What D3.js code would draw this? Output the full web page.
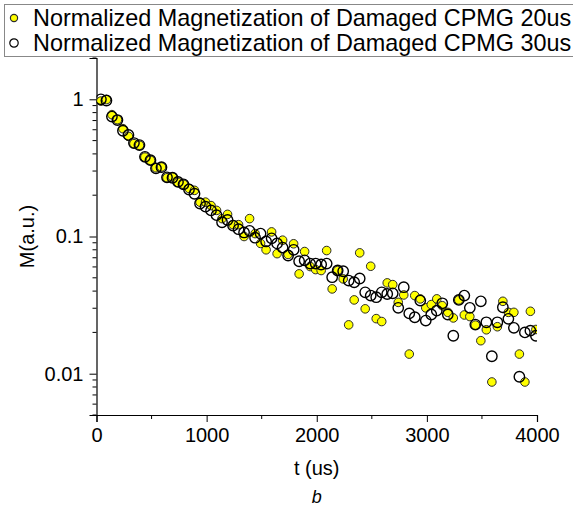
<!DOCTYPE html>
<html>
<head>
<meta charset="utf-8">
<script src="https://cdn.jsdelivr.net/npm/d3@7"></script>
<style>
  body { margin: 0; background: #fff; }
  svg { display: block; font-family: "Liberation Sans", Arial, sans-serif; }
</style>
</head>
<body>
<svg id="chart" width="573" height="511"></svg>
<script>
// sample times (us), one echo every 50 us
const times = d3.range(80).map(k => 40 + 50 * k);

// Normalized Magnetization of Damaged CPMG 20us
const cpmg20 = [
  0.97, 0.995, 0.773, 0.711, 0.611, 0.537, 0.475, 0.462, 0.379, 0.359,
  0.317, 0.321, 0.268, 0.271, 0.248, 0.240, 0.224, 0.217, 0.178, 0.178,
  0.168, 0.155, 0.135, 0.145, 0.122, 0.122, 0.100, 0.135, 0.105, 0.089,
  0.080, 0.108, 0.075, 0.094, 0.074, 0.0885, 0.0534, 0.0777, 0.0604, 0.0574,
  0.0565, 0.079, 0.0415, 0.0565, 0.0491, 0.0227, 0.0345, 0.076, 0.0297, 0.0607,
  0.0252, 0.0240, 0.0459, 0.0446, 0.0331, 0.0375, 0.0139, 0.0371, 0.0351, 0.0302,
  0.0319, 0.0351, 0.0313, 0.028, 0.0255, 0.0345, 0.0268, 0.0261, 0.0226, 0.0174,
  0.0209, 0.0087, 0.0220, 0.0337, 0.0280, 0.0280, 0.0139, 0.0087, 0.0285, 0.0210
];

// Normalized Magnetization of Damaged CPMG 30us
const cpmg30 = [
  1.0, 0.98, 0.748, 0.706, 0.59, 0.55, 0.48, 0.464, 0.381, 0.36,
  0.314, 0.32, 0.27, 0.268, 0.25, 0.24, 0.22, 0.205, 0.174, 0.165,
  0.155, 0.143, 0.127, 0.132, 0.120, 0.113, 0.107, 0.110, 0.098, 0.105,
  0.092, 0.097, 0.089, 0.083, 0.0727, 0.080, 0.066, 0.067, 0.0635, 0.0635,
  0.0625, 0.0635, 0.0505, 0.0565, 0.0558, 0.0477, 0.0464, 0.0494, 0.0392, 0.0371,
  0.0361, 0.0392, 0.0381, 0.0385, 0.0302, 0.0427, 0.0275, 0.0258, 0.0341, 0.0244,
  0.0270, 0.0288, 0.0326, 0.0270, 0.0189, 0.0345, 0.0371, 0.0302, 0.0228, 0.0337,
  0.0237, 0.0134, 0.0237, 0.0305, 0.0251, 0.0216, 0.0095, 0.0200, 0.0206, 0.0189
];

const seriesNames = [
  "Normalized Magnetization of Damaged CPMG 20us",
  "Normalized Magnetization of Damaged CPMG 30us"
];
const xTicks = [0, 1000, 2000, 3000, 4000];
const yTicks = [1, 0.1, 0.01];
const yTickLabels = ["1", "0.1", "0.01"];

const svg = d3.select('#chart');
const margin = {left: 96.5, right: 36, top: 58, bottom: 96};
const W = 573, H = 511;

const x = d3.scaleLinear()
  .domain([0, 4000])
  .range([margin.left, W - margin.right]);

const y = d3.scaleLog()
  .domain([0.005, 2])
  .range([H - margin.bottom, margin.top]);

svg.append('defs').append('clipPath')
  .attr('id', 'plot-clip')
  .append('rect')
  .attr('x', margin.left)
  .attr('y', margin.top - 10)
  .attr('width', W - margin.right - margin.left)
  .attr('height', H - margin.bottom - margin.top + 10);

// x axis
const xMinor = d3.range(500, 4000, 1000);
const xAxisG = svg.append('g')
  .attr('transform', `translate(0,${y(0.005)})`);
xAxisG.call(d3.axisBottom(x).tickValues(xTicks).tickSize(7).tickPadding(6).tickFormat(d3.format('d')));
xAxisG.selectAll('.minor')
  .data(xMinor)
  .join('line')
  .attr('class', 'minor')
  .attr('x1', d => x(d)).attr('x2', d => x(d))
  .attr('y1', 0).attr('y2', 4)
  .attr('stroke', '#000');

// y axis
const yMinor = [];
[0.001, 0.01, 0.1, 1].forEach(dec => {
  for (let m = 2; m <= 9; m++) {
    const v = dec * m;
    if (v >= 0.005 && v <= 2) yMinor.push(v);
  }
});
const yAxisG = svg.append('g')
  .attr('transform', `translate(${x(0)},0)`);
yAxisG.call(d3.axisLeft(y).tickValues(yTicks).tickSize(7).tickPadding(6)
  .tickFormat((d, i) => yTickLabels[i]));
yAxisG.selectAll('.minor')
  .data(yMinor)
  .join('line')
  .attr('class', 'minor')
  .attr('x1', 0).attr('x2', -4)
  .attr('y1', d => y(d)).attr('y2', d => y(d))
  .attr('stroke', '#000');

svg.selectAll('.domain').attr('stroke', '#000').attr('stroke-width', 1.2);
svg.selectAll('.tick text')
  .attr('font-size', 20)
  .attr('fill', '#000')
  .style('font-family', '"Liberation Sans", Arial, sans-serif');

// data points
const plot = svg.append('g').attr('clip-path', 'url(#plot-clip)');

plot.selectAll('.p20')
  .data(times.map((t, i) => [t, cpmg20[i]]))
  .join('circle')
  .attr('class', 'p20')
  .attr('cx', d => x(d[0]))
  .attr('cy', d => y(d[1]))
  .attr('r', 4.3)
  .attr('fill', '#ffff00')
  .attr('stroke', '#2a2a2a')
  .attr('stroke-width', 1);

plot.selectAll('.p30')
  .data(times.map((t, i) => [t, cpmg30[i]]))
  .join('circle')
  .attr('class', 'p30')
  .attr('cx', d => x(d[0]))
  .attr('cy', d => y(d[1]))
  .attr('r', 5.2)
  .attr('fill', 'none')
  .attr('stroke', '#000')
  .attr('stroke-width', 1.4);

// axis titles
svg.append('text')
  .text('t (us)')
  .attr('x', x(2000))
  .attr('y', 475)
  .attr('text-anchor', 'middle')
  .attr('font-size', 20);

svg.append('text')
  .text('M(a.u.)')
  .attr('transform', `translate(34,${y(0.1)}) rotate(-90)`)
  .attr('text-anchor', 'middle')
  .attr('font-size', 20);

svg.append('text')
  .text('b')
  .attr('x', x(2000))
  .attr('y', 503)
  .attr('text-anchor', 'middle')
  .attr('font-size', 18)
  .attr('font-style', 'italic');

// legend
const legend = svg.append('g');
legend.append('rect')
  .attr('x', 4.5).attr('y', 4.5)
  .attr('width', 600).attr('height', 52)
  .attr('fill', '#fff')
  .attr('stroke', '#888')
  .attr('stroke-width', 1);

const rows = legend.selectAll('.row')
  .data(seriesNames)
  .join('g')
  .attr('class', 'row')
  .attr('transform', (d, i) => `translate(0,${18 + i * 25})`);

rows.append('circle')
  .attr('cx', 14)
  .attr('cy', 0)
  .attr('r', (d, i) => i === 0 ? 3.6 : 4.2)
  .attr('fill', (d, i) => i === 0 ? '#ffff00' : 'none')
  .attr('stroke', (d, i) => i === 0 ? '#2a2a2a' : '#000')
  .attr('stroke-width', 1.2);

rows.append('text')
  .text(d => d)
  .attr('x', 33)
  .attr('y', 8)
  .attr('font-size', 23.4);
</script>
</body>
</html>
